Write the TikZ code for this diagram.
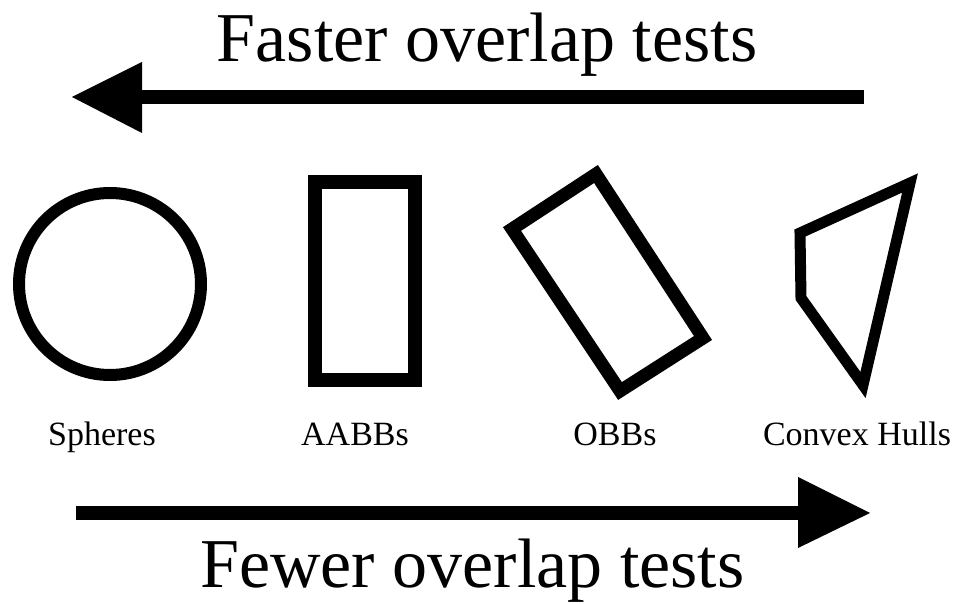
\documentclass[tikz,border=0pt]{standalone}
\usepackage{fontspec}
\setmainfont{Liberation Serif}
\begin{document}
\begin{tikzpicture}[x=1pt,y=-1pt,
  shape outline/.style={draw=black, line join=miter, miter limit=20},
  title text/.style={anchor=base, inner sep=0pt, font=\fontsize{70}{80}\selectfont},
  label text/.style={anchor=base, inner sep=0pt, font=\fontsize{34}{40}\selectfont},
  shaft/.style={line width=14pt},
  head/.style={fill=black}]
\useasboundingbox[fill=white] (0,0) rectangle (959,604);
% top arrow
\coordinate (ts) at (864,97);
\coordinate (te) at (141,97);
\draw[shaft] (ts) -- (te);
\fill[head] (142,62) -- (72,97) -- (142,133) -- cycle;
\node[title text] (faster) at (487,62) {Faster overlap tests};
% shapes
\draw[shape outline, line width=12pt] (110,284) circle (91);
\draw[shape outline, line width=14pt] (314.5,182.5) rectangle (415,380);
\draw[shape outline, line width=13pt] (596,174) -- (512,229) -- (620,391) -- (703,338) -- cycle;
\draw[shape outline, line width=11pt] (910,183) -- (800,233) -- (801,298) -- (863,385) -- cycle;
% labels
\node[label text] (sph) at (102,445) {Spheres};
\node[label text] (aabb) at (355,445) {AABBs};
\node[label text] (obb) at (615,445) {OBBs};
\node[label text] (hull) at (857,445) {Convex Hulls};
% bottom arrow
\coordinate (bs) at (76,512.5);
\coordinate (be) at (799,512.5);
\draw[shaft] (bs) -- (be);
\fill[head] (798,477) -- (870,513) -- (798,548) -- cycle;
\node[title text] (fewer) at (472.5,587) {Fewer overlap tests};
\end{tikzpicture}
\end{document}
